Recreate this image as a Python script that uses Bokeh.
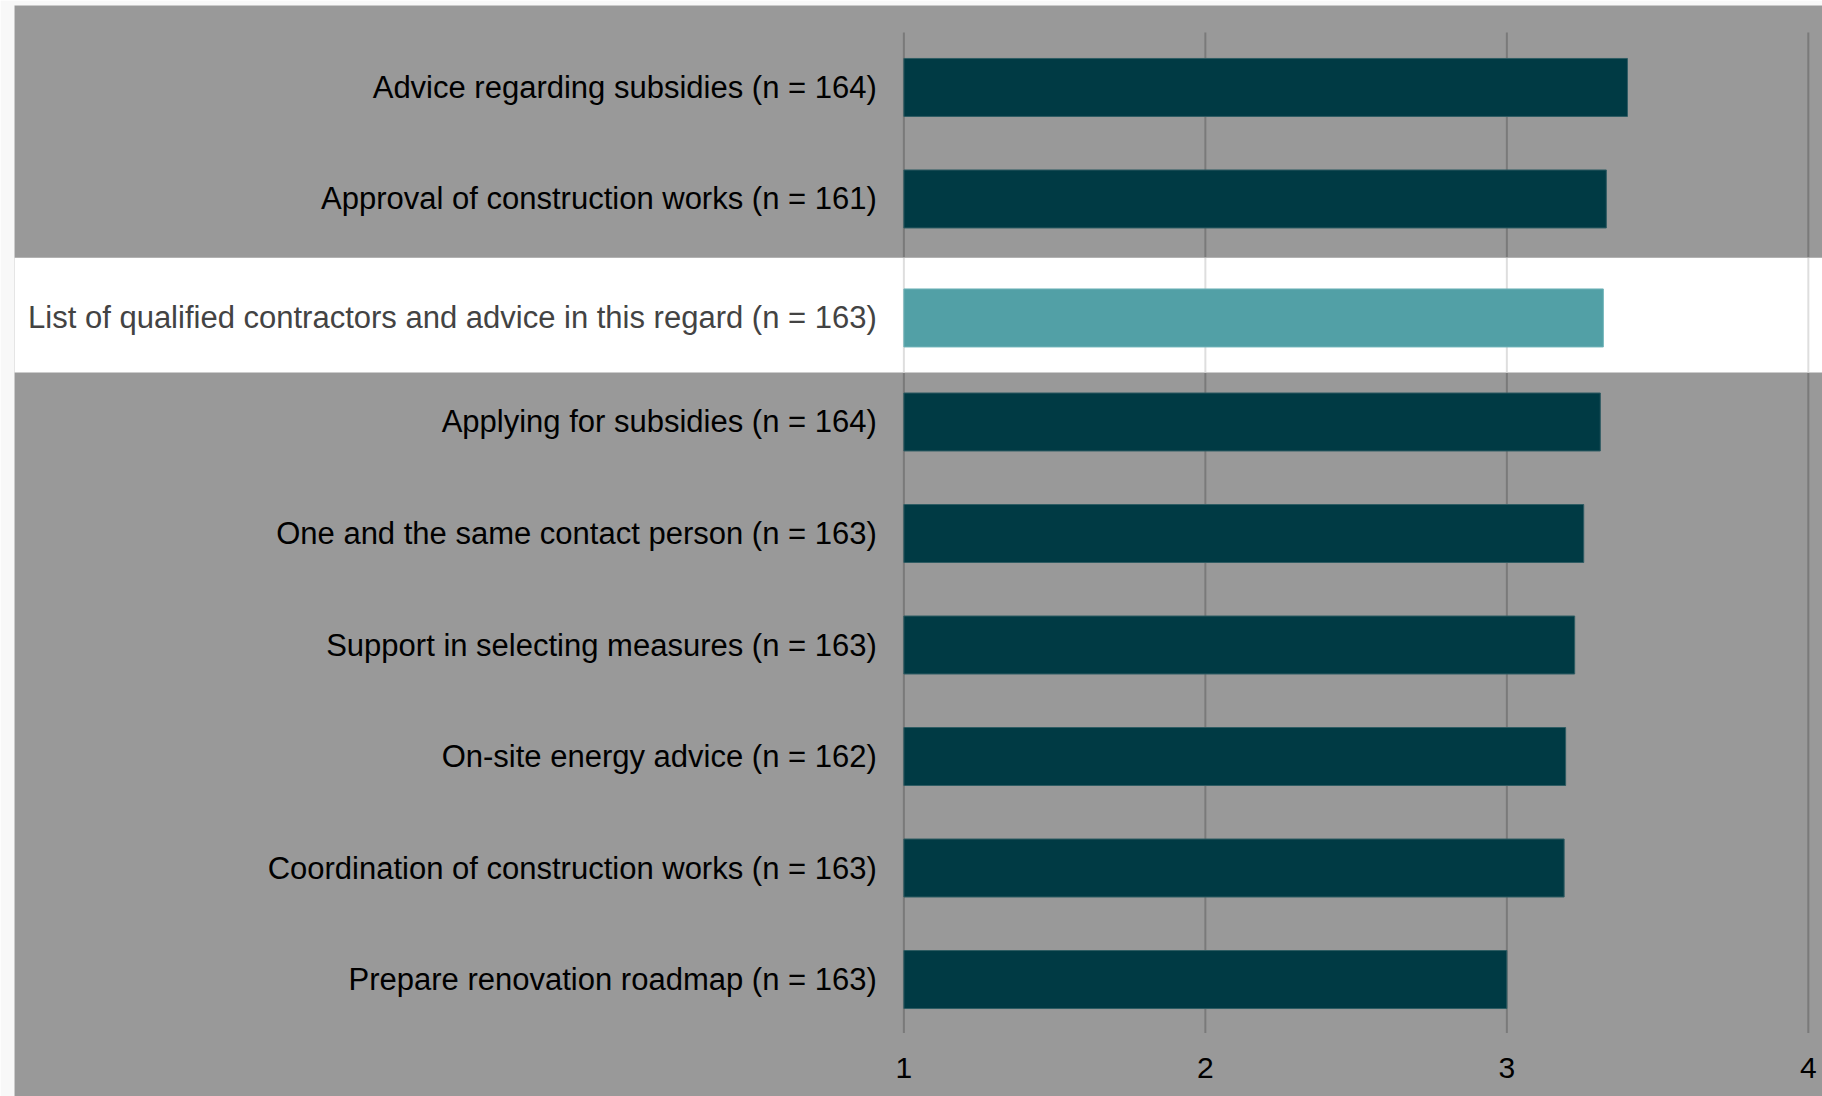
from bokeh.plotting import figure
from bokeh.models import Range1d, ColumnDataSource
from bokeh.core.properties import value
from bokeh.embed import file_html
from bokeh.resources import INLINE

# ---- data ----
categories = [
    "Advice regarding subsidies (n = 164)",
    "Approval of construction works (n = 161)",
    "List of qualified contractors and advice in this regard (n = 163)",
    "Applying for subsidies (n = 164)",
    "One and the same contact person (n = 163)",
    "Support in selecting measures (n = 163)",
    "On-site energy advice (n = 162)",
    "Coordination of construction works (n = 163)",
    "Prepare renovation roadmap (n = 163)",
]
scores = [3.40, 3.33, 3.32, 3.31, 3.255, 3.225, 3.195, 3.19, 3.00]
highlighted = [False, False, True, False, False, False, False, False, False]
x_ticks = [1, 2, 3, 4]
x_tick_labels = ["1", "2", "3", "4"]

# ---- style ----
BG = "#999999"
BAR = "#003a44"
BAR_HL = "#52a0a6"
GRID = "#7a7a7a"
GRID_HL = "#dedede"
FONT = value("Liberation Sans")
HL_SHIFT = 0.067  # highlighted row sits slightly lower

W, H = 1822, 1096
p = figure(width=W, height=H, output_backend="svg", toolbar_location=None,
           x_range=Range1d(-1.950, 4.047), y_range=Range1d(9.049, -0.735),
           min_border_left=14, min_border_right=0, min_border_top=5, min_border_bottom=0,
           background_fill_color=BG, border_fill_color="#f8f8f8",
           outline_line_color=None)
p.axis.visible = False
p.grid.visible = False

n = len(categories)
ys = [i + (HL_SHIFT if h else 0.0) for i, h in enumerate(highlighted)]
bar_colors = [BAR_HL if h else BAR for h in highlighted]
line_colors = ["#6fb3b8" if h else "#2f5c63" for h in highlighted]
text_colors = ["#434343" if h else "#000000" for h in highlighted]

# gridlines
grid_top, grid_bottom = -0.493, n - 0.52
p.segment(x0=x_ticks, x1=x_ticks, y0=[grid_top] * len(x_ticks), y1=[grid_bottom] * len(x_ticks),
          line_color=GRID, line_width=2)

# highlight band
hl_rows = [y for y, h in zip(ys, highlighted) if h]
band_top = [y - 0.54 for y in hl_rows]
band_bottom = [y + 0.49 for y in hl_rows]
p.quad(left=-3, right=5, top=band_top, bottom=band_bottom, fill_color="white", line_color=None)
for bt, bb in zip(band_top, band_bottom):
    p.segment(x0=x_ticks, x1=x_ticks, y0=[bt] * len(x_ticks), y1=[bb] * len(x_ticks),
              line_color=GRID_HL, line_width=2)

src = ColumnDataSource(dict(y=ys, right=scores, color=bar_colors, lc=line_colors,
                            label=categories, tc=text_colors,
                            lx=[0.91] * n))
p.hbar(y="y", left=1, right="right", height=0.52, source=src,
       fill_color="color", line_color="lc", line_width=1)

p.text(x="lx", y="y", text="label", source=src, text_align="right", text_baseline="middle",
       text_font=FONT, text_font_size=value("31px"), text_color="tc")

p.text(x=x_ticks, y=[8.795] * len(x_ticks), text=x_tick_labels, text_align="center",
       text_baseline="middle", text_font=FONT, text_font_size=value("30px"), text_color="#000000")

open("out.html", "w").write(file_html(p, INLINE))
